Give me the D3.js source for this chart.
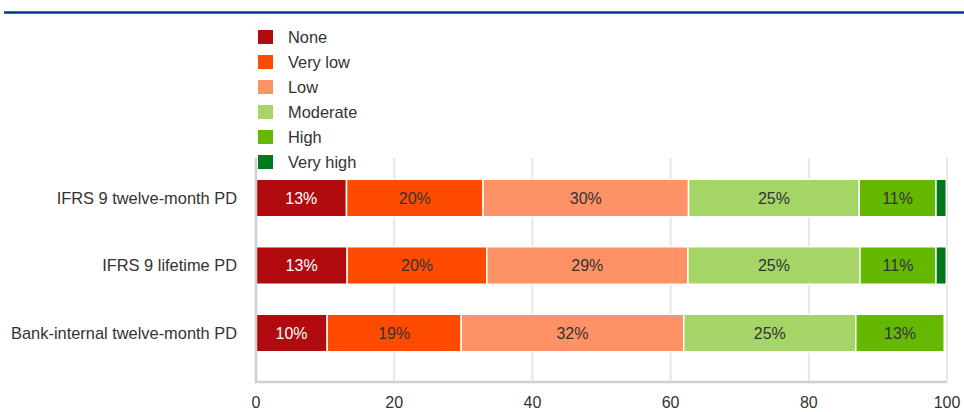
<!DOCTYPE html>
<html>
<head>
<meta charset="utf-8">
<script src="https://cdn.jsdelivr.net/npm/d3@7"></script>
<style>
  body { margin: 0; background: #fff; }
  svg { display: block; font-family: Arial, "Liberation Sans", sans-serif; }
</style>
</head>
<body>
<svg id="chart" width="964" height="412"></svg>
<script>
const categories = ["IFRS 9 twelve-month PD", "IFRS 9 lifetime PD", "Bank-internal twelve-month PD"];
const seriesNames = ["None", "Very low", "Low", "Moderate", "High", "Very high"];
const seriesColors = ["#b20b0f", "#ff4b00", "#ff9166", "#a5d566", "#65b800", "#00781e"];
const none      = [13.1, 13.2, 10.3];
const veryLow   = [19.75, 20.2, 19.4];
const low       = [29.75, 29.1, 32.2];
const moderate  = [24.7, 24.9, 24.9];
const high      = [11.1, 11.0, 12.8];
const veryHigh  = [1.5, 1.5, 0];
const xTicks = [0, 20, 40, 60, 80, 100];

const seriesValues = [none, veryLow, low, moderate, high, veryHigh];
const rows = categories.map((c, i) => {
  const r = { cat: c };
  seriesNames.forEach((s, j) => r[s] = seriesValues[j][i]);
  return r;
});

const svg = d3.select("#chart");

// top blue rule
svg.append("line").attr("x1", 4).attr("x2", 964).attr("y1", 12.5).attr("y2", 12.5)
  .attr("stroke", "#003299").attr("stroke-width", 2.5);

const x = d3.scaleLinear().domain([0, 100]).range([256, 947]);
const y = d3.scaleBand().domain(categories).range([164.25, 366.75]).paddingInner(0.444).paddingOuter(0.222);

const plotTop = 158, plotBottom = 382;

// gridlines
svg.append("g").selectAll("line").data(xTicks.filter(t => t > 0)).join("line")
  .attr("x1", d => x(d)).attr("x2", d => x(d))
  .attr("y1", plotTop).attr("y2", plotBottom)
  .attr("stroke", "#e6e6e6").attr("stroke-width", 2);

// stacked bars
const stack = d3.stack().keys(seriesNames)(rows);
const color = d3.scaleOrdinal().domain(seriesNames).range(seriesColors);

const g = svg.append("g");
stack.forEach((layer, j) => {
  const grp = g.append("g");
  grp.selectAll("rect").data(layer.filter(d => d[1] - d[0] > 0)).join("rect")
    .attr("x", d => x(d[0]))
    .attr("y", d => y(d.data.cat))
    .attr("width", d => x(d[1]) - x(d[0]))
    .attr("height", y.bandwidth())
    .attr("fill", color(layer.key))
    .attr("stroke", "#fff").attr("stroke-width", 1.5);
  grp.selectAll("text").data(layer.filter(d => d[1] - d[0] > 4)).join("text")
    .attr("x", d => (x(d[0]) + x(d[1])) / 2)
    .attr("y", d => y(d.data.cat) + y.bandwidth() / 2)
    .attr("dy", "0.35em")
    .attr("text-anchor", "middle")
    .attr("font-size", 16)
    .attr("fill", j === 0 ? "#fff" : "#333")
    .text(d => Math.round(d[1] - d[0]) + "%");
});

// axes lines
svg.append("line").attr("x1", x(0)).attr("x2", x(0)).attr("y1", plotTop).attr("y2", plotBottom + 1)
  .attr("stroke", "#cfcfcf").attr("stroke-width", 2.5);
svg.append("line").attr("x1", x(0) - 1).attr("x2", x(100)).attr("y1", plotBottom).attr("y2", plotBottom)
  .attr("stroke", "#cfcfcf").attr("stroke-width", 2.5);

// x tick labels
svg.append("g").selectAll("text").data(xTicks).join("text")
  .attr("x", d => x(d)).attr("y", 402).attr("dy", "0.35em")
  .attr("text-anchor", "middle").attr("font-size", 16).attr("fill", "#333")
  .text(d => d);

// category labels
svg.append("g").selectAll("text").data(categories).join("text")
  .attr("x", 237).attr("y", d => y(d) + y.bandwidth() / 2).attr("dy", "0.35em")
  .attr("text-anchor", "end").attr("font-size", 16.4).attr("fill", "#333")
  .text(d => d);

// legend
const leg = svg.append("g").selectAll("g").data(seriesNames).join("g")
  .attr("transform", (d, i) => `translate(258, ${37 + i * 25})`);
leg.append("rect").attr("x", 0).attr("y", -7).attr("width", 15).attr("height", 14)
  .attr("fill", d => color(d));
leg.append("text").attr("x", 30).attr("y", 0).attr("dy", "0.35em")
  .attr("font-size", 16.4).attr("fill", "#333").text(d => d);
</script>
</body>
</html>
